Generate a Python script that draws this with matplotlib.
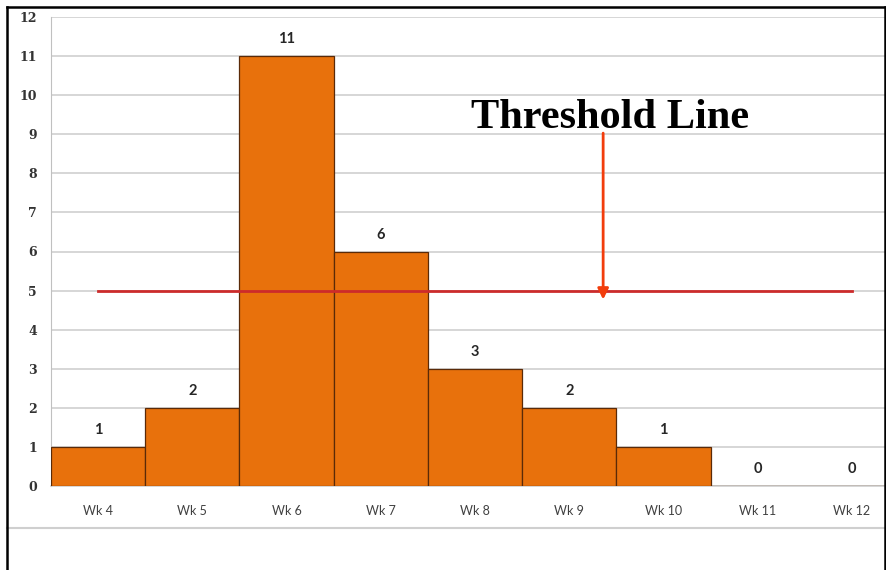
import matplotlib
matplotlib.use('Agg')
import matplotlib.pyplot as plt
from matplotlib.lines import Line2D

# data
weeks = ['Wk 4', 'Wk 5', 'Wk 6', 'Wk 7', 'Wk 8', 'Wk 9', 'Wk 10', 'Wk 11', 'Wk 12']
counts = [1, 2, 11, 6, 3, 2, 1, 0, 0]
threshold = 5
y_ticks = list(range(0, 13))

W, H = 887, 570
fig = plt.figure(figsize=(W / 100, H / 100), dpi=100)
fig.patch.set_facecolor('white')

# axes placed in pixel terms (right edge runs slightly past the frame)
left, right, top, bottom = 51, 899, 17, 486
ax = fig.add_axes([left / W, 1 - bottom / H, (right - left) / W, (bottom - top) / H])

x = list(range(len(weeks)))
ax.bar(x, counts, width=1.0, color='#E8710C', edgecolor='#5a2a08', linewidth=0.9, zorder=3)

for xi, c in zip(x, counts):
    ax.annotate(str(c), xy=(xi, c), xytext=(0, 12), textcoords='offset points',
                ha='center', va='center', fontsize=10.5, fontweight='bold',
                color='#262626', family='Lato')

# threshold line from first to last category centre
ax.plot([x[0], x[-1]], [threshold, threshold], color='#cc2b2b', linewidth=2, zorder=4)

ax.set_xlim(-0.5, len(weeks) - 0.5)
ax.set_ylim(0, 12)
ax.set_yticks(y_ticks)
ax.set_xticks(x)
ax.set_xticklabels(weeks, fontsize=9, color='#404040', family='Lato')
for lab in ax.get_yticklabels():
    lab.set_fontsize(9)
    lab.set_fontweight('bold')
    lab.set_color('#333333')
    lab.set_family('DejaVu Serif')
ax.tick_params(axis='y', length=0, pad=10)
ax.tick_params(axis='x', length=0, pad=14)
ax.yaxis.grid(True, color='#d0d0d0', linewidth=1.2, zorder=0)
ax.set_axisbelow(True)
for s in ['top', 'right']:
    ax.spines[s].set_visible(False)
ax.spines['left'].set_color('#c0c0c0')
ax.spines['bottom'].set_color('#d0d0d0')
ax.spines['bottom'].set_linewidth(1.2)

# annotation text and arrow
ax.annotate('', xy=(5.36, 4.7), xytext=(5.36, 9.1),
            arrowprops=dict(arrowstyle='-|>', color='#f23d0c', lw=2, mutation_scale=16), zorder=5)
ax.text(5.43, 9.42, 'Threshold Line', ha='center', va='center', fontsize=30.5,
        fontweight='bold', family='Liberation Serif', color='black', zorder=6)

# frame lines
def px_line(x0, y0, x1, y1, **kw):
    fig.add_artist(Line2D([x0 / W, x1 / W], [1 - y0 / H, 1 - y1 / H],
                          transform=fig.transFigure, **kw))

px_line(7, 528, 885, 528, color='#cfcfcf', linewidth=1.5)
px_line(7, 7, 885, 7, color='black', linewidth=1.8)
px_line(7, 7, 7, 570, color='black', linewidth=1.8)
px_line(885, 7, 885, 570, color='black', linewidth=1.8)

plt.savefig('out.png', dpi=100)
